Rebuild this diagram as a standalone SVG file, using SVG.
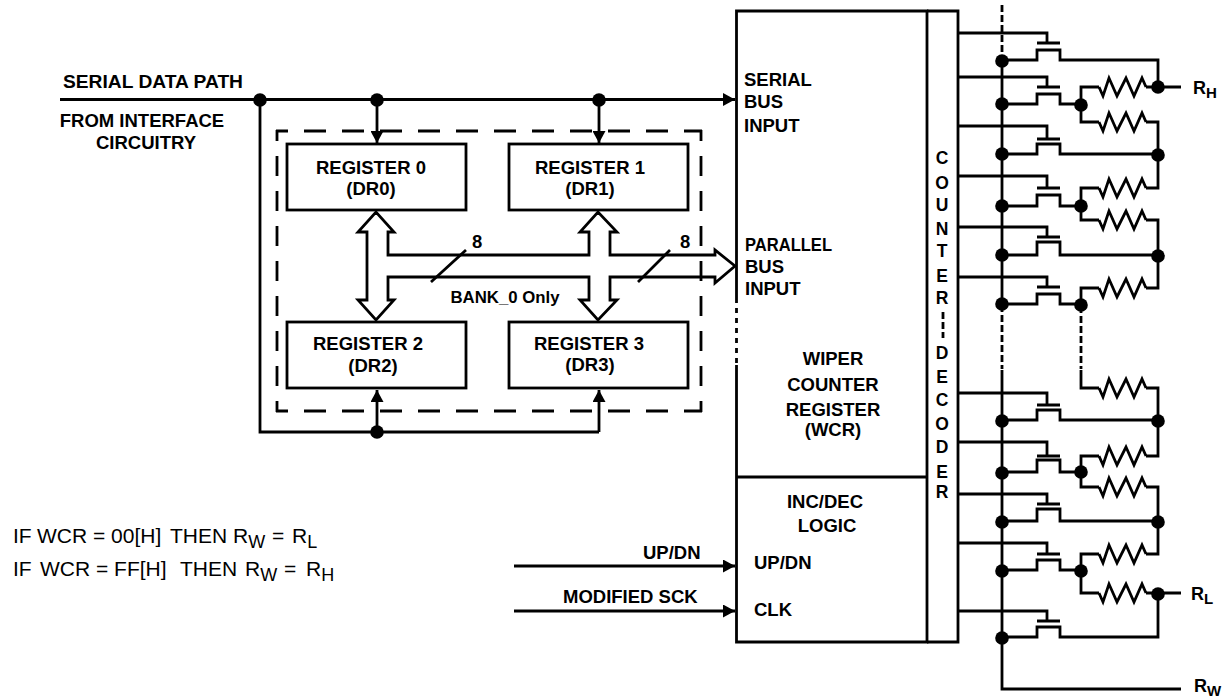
<svg xmlns="http://www.w3.org/2000/svg" width="1223" height="698" viewBox="0 0 1223 698">
<style>
.l{fill:none;stroke:#000;stroke-width:2.8}
.d{stroke-dasharray:7 3}
.bk{stroke-dasharray:22 16;stroke-dashoffset:10}
.bv{stroke-dasharray:20 15;stroke-dashoffset:9}
text{font-family:"Liberation Sans",Arial,sans-serif;fill:#000}
.b{font-weight:700;font-size:18.5px}
.m{text-anchor:middle}
.e{font-size:21px}
.s{font-size:18px;baseline-shift:-5px}
.c{font-size:17.5px}
.rb{font-weight:700;font-size:18px}
.rs{font-weight:700;font-size:15px;baseline-shift:-4px}
</style>
<defs>
<marker id="a" markerWidth="12" markerHeight="13" refX="12" refY="6.5" orient="auto" markerUnits="userSpaceOnUse"><path d="M0 0L12 6.5L0 13Z" fill="#000"/></marker>
<path id="r" class="l" d="M1099 0L1103 9L1109-9L1117 9L1126-9L1134 9L1142-9L1146 0"/>
<circle id="n" r="6.8" fill="#000"/>
</defs>
<rect width="1223" height="698" fill="#fff"/>
<g id="bank-outline">
<path class="l bk" d="M276 131H702M276 411H702"/>
<path class="l bv" d="M277 130V412M701 130V412"/>
</g>
<g id="connectors">
<path class="l" marker-end="url(#a)" d="M60 99.500H735"/>
<path class="l" marker-end="url(#a)" d="M377 99V143"/>
<path class="l" marker-end="url(#a)" d="M599 99V143"/>
<path class="l" d="M260 99V432H599"/>
<path class="l" marker-end="url(#a)" d="M377 432V390"/>
<path class="l" marker-end="url(#a)" d="M599 432V390"/>
<path class="l" marker-end="url(#a)" d="M514 566H735"/>
<path class="l" marker-end="url(#a)" d="M514 611H735"/>
<path class="l" d="M388 255H589V232H580L598 212L617 232H610V255H715V250L735 266L715 283V277H610V300H617L598 320L580 300H589V277H388V300H394L376 320L358 300H367V232H358L376 212L394 232H388Z"/>
<path class="l" d="M431 282L466 250M638 282L670 250"/>
<use href="#n" x="260" y="100"/><use href="#n" x="377" y="100"/><use href="#n" x="599" y="100"/><use href="#n" x="377" y="432"/>
</g>
<g id="register-0"><rect class="l" x="287" y="144" width="179" height="66"/><text class="b m" x="371" y="174">REGISTER 0</text><text class="b m" x="371" y="195">(DR0)</text></g>
<g id="register-1"><rect class="l" x="509" y="144" width="179" height="66"/><text class="b m" x="590" y="174">REGISTER 1</text><text class="b m" x="590" y="195">(DR1)</text></g>
<g id="register-2"><rect class="l" x="287" y="322" width="179" height="66"/><text class="b m" x="368" y="350">REGISTER 2</text><text class="b m" x="373" y="372">(DR2)</text></g>
<g id="register-3"><rect class="l" x="509" y="322" width="179" height="66"/><text class="b m" x="589" y="350">REGISTER 3</text><text class="b m" x="590" y="371">(DR3)</text></g>
<g id="wcr">
<path class="l" d="M736.500 303V11H927V642H736.500V365M736.500 477H927"/>
<path class="l" stroke-dasharray="5 5" d="M736.500 308V365"/>
<text class="b" x="744" y="86">SERIAL</text><text class="b" x="744" y="108">BUS</text><text class="b" x="744" y="132">INPUT</text>
<text class="b" x="745" y="251" textLength="87" lengthAdjust="spacingAndGlyphs">PARALLEL</text><text class="b" x="745" y="273">BUS</text><text class="b" x="745" y="295">INPUT</text>
<text class="b m" x="833" y="365">WIPER</text><text class="b m" x="833" y="391">COUNTER</text><text class="b m" x="833" y="416">REGISTER</text><text class="b m" x="833" y="436">(WCR)</text>
<text class="b m" x="825" y="508">INC/DEC</text><text class="b m" x="827" y="532">LOGIC</text>
<text class="b" x="754" y="569">UP/DN</text><text class="b" x="754" y="616">CLK</text>
</g>
<g id="decoder">
<path class="l" d="M927 11H958V642H927"/>
<g class="b m">
<text class="c" x="942" y="164">C</text><text class="c" x="942" y="189">O</text><text class="c" x="942" y="211">U</text><text class="c" x="942" y="235">N</text><text class="c" x="942" y="257">T</text><text class="c" x="942" y="282">E</text><text class="c" x="942" y="304">R</text>
<text class="c" x="942" y="359">D</text><text class="c" x="942" y="383">E</text><text class="c" x="942" y="406">C</text><text class="c" x="942" y="430">O</text><text class="c" x="942" y="453">D</text><text class="c" x="942" y="478">E</text><text class="c" x="942" y="498">R</text>
</g>
<path class="l" stroke-dasharray="7 3" d="M943 312V338"/>
</g>
<g id="wiper-bus">
<path class="l d" d="M1002 5V60"/>
<path class="l" d="M1002 60V304"/>
<path class="l d" d="M1002 305V369"/>
<path class="l" d="M1002 370V689H1181"/>
</g>
<g id="sw1"><path class="l" d="M958 33H1047V43M1037 43H1060M1002 60H1037V50H1060V60H1158V87"/><use href="#n" x="1002" y="61"/></g>
<g id="sw2"><path class="l" d="M958 77H1047V87M1037 87H1060M1002 104H1037V94H1060V104H1081"/><use href="#n" x="1002" y="104"/><use href="#n" x="1081" y="105"/></g>
<g id="sw3"><path class="l" d="M958 126H1047V139M1037 139H1060M1002 154H1037V144H1060V154H1158"/><use href="#n" x="1002" y="154"/><use href="#n" x="1158" y="155"/></g>
<g id="sw4"><path class="l" d="M958 176H1047V188M1037 188H1060M1002 206H1037V195H1060V206H1081"/><use href="#n" x="1002" y="206"/><use href="#n" x="1081" y="206"/></g>
<g id="sw5"><path class="l" d="M958 227H1047V237M1037 237H1060M1002 255H1037V242H1060V255H1158"/><use href="#n" x="1002" y="255"/><use href="#n" x="1158" y="256"/></g>
<g id="sw6"><path class="l" d="M958 277H1047V287M1037 287H1060M1002 304H1037V294H1060V304H1081"/><use href="#n" x="1002" y="304"/><use href="#n" x="1081" y="305"/></g>
<g id="sw7"><path class="l" d="M958 393H1047V405M1037 405H1060M1002 420H1037V410H1060V420H1158"/><use href="#n" x="1002" y="421"/><use href="#n" x="1158" y="421"/></g>
<g id="sw8"><path class="l" d="M958 442H1047V456M1037 456H1060M1002 472H1037V460H1060V472H1081"/><use href="#n" x="1002" y="473"/><use href="#n" x="1081" y="472"/></g>
<g id="sw9"><path class="l" d="M958 494H1047V504M1037 504H1060M1002 521H1037V509H1060V521H1158"/><use href="#n" x="1002" y="522"/><use href="#n" x="1158" y="522"/></g>
<g id="sw10"><path class="l" d="M958 543H1047V554M1037 554H1060M1002 570H1037V560H1060V570H1081"/><use href="#n" x="1002" y="571"/><use href="#n" x="1081" y="571"/></g>
<g id="sw11"><path class="l" d="M958 611H1047V621M1037 621H1060M1002 637H1037V627H1060V637H1158V594"/><use href="#n" x="1002" y="638"/></g>
<g id="ladder">
<path class="l" d="M1081 105V87H1099M1146 87H1181M1081 105V122H1099M1146 122H1158V188H1146M1081 206V188H1099M1081 206V220H1099M1146 220H1158V288H1146M1081 305V288H1099"/>
<path class="l d" d="M1081 306V369"/>
<path class="l" d="M1081 370V388H1099M1146 388H1158V456H1146M1081 472V456H1099M1081 472V487H1099M1146 487H1158V554H1146M1081 571V554H1099M1081 571V593H1099M1146 593H1181"/>
<use href="#r" y="87"/><use href="#r" y="122"/><use href="#r" y="188"/><use href="#r" y="220"/><use href="#r" y="288"/><use href="#r" y="388"/><use href="#r" y="456"/><use href="#r" y="487"/><use href="#r" y="554"/><use href="#r" y="593"/>
<use href="#n" x="1158" y="87"/><use href="#n" x="1158" y="594"/>
</g>
<g id="labels">
<text class="b" x="63" y="88" textLength="180" lengthAdjust="spacingAndGlyphs">SERIAL DATA PATH</text>
<text class="b m" x="142" y="127">FROM INTERFACE</text><text class="b m" x="146" y="149">CIRCUITRY</text>
<text class="b" x="472" y="248">8</text><text class="b" x="680" y="248">8</text>
<text class="b m" x="505" y="303" style="font-size:16.800px">BANK_0 Only</text>
<text class="b" x="643" y="559">UP/DN</text>
<text class="b" x="563" y="603">MODIFIED SCK</text>
<text class="rb" x="1193" y="94">R<tspan class="rs">H</tspan></text>
<text class="rb" x="1191" y="600">R<tspan class="rs">L</tspan></text>
<text class="rb" x="1194" y="692">R<tspan class="rs">W</tspan></text>
<text class="e" y="543"><tspan x="13">IF</tspan><tspan x="37">WCR = 00[H]</tspan><tspan x="170">THEN</tspan><tspan x="233">R</tspan><tspan class="s">W</tspan><tspan x="272">=</tspan><tspan x="292">R</tspan><tspan class="s">L</tspan></text>
<text class="e" y="576"><tspan x="13">IF</tspan><tspan x="40">WCR = FF[H]</tspan><tspan x="180">THEN</tspan><tspan x="245">R</tspan><tspan class="s">W</tspan><tspan x="284">=</tspan><tspan x="306">R</tspan><tspan class="s">H</tspan></text>
</g>
</svg>
